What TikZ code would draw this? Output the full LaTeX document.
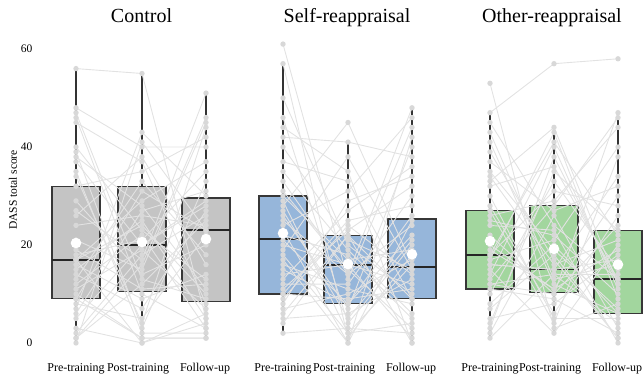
\documentclass[tikz,border=0pt]{standalone}
\usepackage{fontspec}
\setmainfont{Liberation Serif}
\definecolor{boxgrey}{RGB}{196,196,196}
\definecolor{boxblue}{RGB}{150,182,218}
\definecolor{boxgreen}{RGB}{162,214,158}
\definecolor{subjcol}{RGB}{226,226,226}
\definecolor{dotcol}{RGB}{216,216,216}
\definecolor{edgegrey}{RGB}{55,55,55}
\tikzset{
  boxbody/.style={draw=edgegrey, line width=1.2pt},
  medianbar/.style={draw=black!85, line width=1.9pt},
  whisker/.style={draw=black!80, line width=1.3pt},
  subjline/.style={draw=subjcol, line width=0.9pt},
  subjdot/.style={fill=dotcol},
  meandot/.style={fill=white},
  titletext/.style={font=\fontsize{20}{24}\selectfont, anchor=base},
  xlab/.style={font=\fontsize{12}{14}\selectfont, anchor=base},
  ticklab/.style={font=\fontsize{11.5}{13}\selectfont, anchor=east},
  axlab/.style={font=\fontsize{11.5}{13}\selectfont, rotate=90},
}
\def\PermA{17,3,29,8,36,22,0,14,31,5,26,39,11,20,33,2,24,9,37,15,28,6,19,34,1,12,27,38,4,23,10,30,16,35,7,21,32,13,25,18}
\def\CtrlPre{0,1,1,2,3,5,6,7,8,9,9,10,11,12,13,14,15,16,17,17,17,18,19,21,24,26,27,29,32,34,35,37,38,39,40,45,46,47,48,56}
\def\CtrlPost{0,0,1,1,2,3,4,5,7,9,10,11,12,13,14,15,16,17,18,19,20,20,21,22,23,24,25,26,27,28,29,31,33,35,37,38,40,41,43,55}
\def\CtrlFol{1,1,2,3,3,4,5,5,6,7,8,9,10,11,12,13,14,16,18,20,22,23,23,24,25,26,27,28,29,30,31,33,35,37,40,42,44,45,46,51}
\def\SelfPre{2,4,5,6,7,8,9,10,10,11,12,13,14,15,16,17,18,19,20,21,22,23,24,25,26,27,28,29,30,31,33,35,37,40,42,44,46,50,57,61}
\def\SelfPost{0,0,1,2,2,3,4,5,6,7,8,8,9,10,11,12,13,14,14,15,16,16,17,18,19,20,21,22,22,23,24,25,27,29,31,33,35,38,41,45}
\def\SelfFol{0,0,1,2,3,4,5,6,8,9,9,10,11,12,13,14,15,15,16,16,17,18,19,20,21,22,24,25,26,28,30,32,34,36,38,40,42,44,46,48}
\def\OthPre{1,2,3,4,5,7,8,10,11,12,12,13,14,15,16,16,17,17,18,18,19,20,22,24,25,26,27,28,30,32,33,34,35,37,39,41,43,45,47,53}
\def\OthPost{2,3,4,5,6,8,9,10,10,11,11,12,13,14,14,15,15,16,17,18,19,20,21,22,23,24,26,27,28,29,31,33,35,36,38,40,41,43,44,57}
\def\OthFol{0,1,1,2,3,4,5,6,6,7,8,9,10,11,12,12,13,13,14,15,16,17,18,19,20,21,22,23,24,26,28,30,32,34,38,40,44,46,47,58}
% x, fill, min, q1, med, q3, max
\newcommand\boxfig[7]{%
  \draw[whisker] (#1,#3) -- (#1,#4);
  \draw[whisker] (#1,#6) -- (#1,#7);
  \filldraw[boxbody, fill=#2] ({#1-24},#4) rectangle ({#1+24},#6);
  \draw[medianbar] ({#1-24},#5) -- ({#1+24},#5);
}
% xpre xpost xfol prelist postlist follist postindex followindex
\newcommand\subjgroup[8]{%
  \foreach \i in {0,...,39}{%
    \pgfmathtruncatemacro\pidx{{\PermA}[mod(#7,40)]}%
    \pgfmathtruncatemacro\fidx{{\PermA}[mod(#8,40)]}%
    \pgfmathsetmacro\ya{{#4}[\i]}%
    \pgfmathsetmacro\yb{{#5}[\pidx]}%
    \pgfmathsetmacro\yc{{#6}[\fidx]}%
    \draw[subjline] (#1,\ya) -- (#2,\yb) -- (#3,\yc);
  }%
}
\newcommand\dotcolumn[2]{%
  \foreach \v in #2 {\fill[subjdot] (#1,\v) circle[radius=2.7pt];}%
}
\begin{document}
\begin{tikzpicture}
\useasboundingbox (0,0) rectangle (644pt,379pt);
% titles
\node[titletext] (tctrl) at (141.5pt,356pt) {Control};
\node[titletext] (tself) at (347pt,356pt) {Self-reappraisal};
\node[titletext] (toth) at (552pt,356pt) {Other-reappraisal};
% y axis
\node[ticklab] (y60) at (36pt,330pt) {60};
\node[ticklab] (y40) at (36pt,232pt) {40};
\node[ticklab] (y20) at (36pt,134pt) {20};
\node[ticklab] (y0) at (36pt,36pt) {0};
\node[axlab] (ylab) at (13pt,189pt) {DASS total score};
% x labels
\foreach \xa/\xb/\xc/\g in {76/138/205/a, 283/344/411/b, 490/550/617/c}{
  \node[xlab] (pre\g) at (\xa pt,7pt) {Pre-training};
  \node[xlab] (post\g) at (\xb pt,7pt) {Post-training};
  \node[xlab] (fol\g) at (\xc pt,7pt) {Follow-up};
}
\begin{scope}[x=1pt, y=4.9pt, yshift=36pt]
  % boxes
  \boxfig{76}{boxgrey}{0}{9}{17}{32}{56}
  \boxfig{142}{boxgrey}{0}{10.5}{20}{32}{55}
  \boxfig{206}{boxgrey}{1}{8.5}{23}{29.6}{51}
  \boxfig{283}{boxblue}{2}{10}{21.2}{30}{57}
  \boxfig{348}{boxblue}{0}{8}{16}{22}{41}
  \boxfig{412}{boxblue}{0}{9}{15.6}{25.3}{48}
  \boxfig{490}{boxgreen}{1}{11}{18}{27}{47}
  \boxfig{554}{boxgreen}{2}{10.3}{15}{28}{44}
  \boxfig{618}{boxgreen}{0}{6}{13}{23}{47}
  % individual trajectories
  \subjgroup{76}{142}{206}{\CtrlPre}{\CtrlPost}{\CtrlFol}{7*\i+18}{11*\i+5}
  \subjgroup{283}{348}{412}{\SelfPre}{\SelfPost}{\SelfFol}{17*\i+9}{23*\i+1}
  \subjgroup{490}{554}{618}{\OthPre}{\OthPost}{\OthFol}{13*\i+37}{19*\i+9}
  % dots
  \dotcolumn{76}{\CtrlPre}
  \dotcolumn{142}{\CtrlPost}
  \dotcolumn{206}{\CtrlFol}
  \dotcolumn{283}{\SelfPre}
  \dotcolumn{348}{\SelfPost}
  \dotcolumn{412}{\SelfFol}
  \dotcolumn{490}{\OthPre}
  \dotcolumn{554}{\OthPost}
  \dotcolumn{618}{\OthFol}
  % means
  \fill[meandot] (76,20.4) circle[radius=5.3pt];
  \fill[meandot] (142,20.6) circle[radius=5.3pt];
  \fill[meandot] (206,21.2) circle[radius=5.3pt];
  \fill[meandot] (283,22.4) circle[radius=5.3pt];
  \fill[meandot] (348,16.1) circle[radius=5.3pt];
  \fill[meandot] (412,18.1) circle[radius=5.3pt];
  \fill[meandot] (490,20.8) circle[radius=5.3pt];
  \fill[meandot] (554,19.2) circle[radius=5.3pt];
  \fill[meandot] (618,16) circle[radius=5.3pt];
\end{scope}
\end{tikzpicture}
\end{document}
